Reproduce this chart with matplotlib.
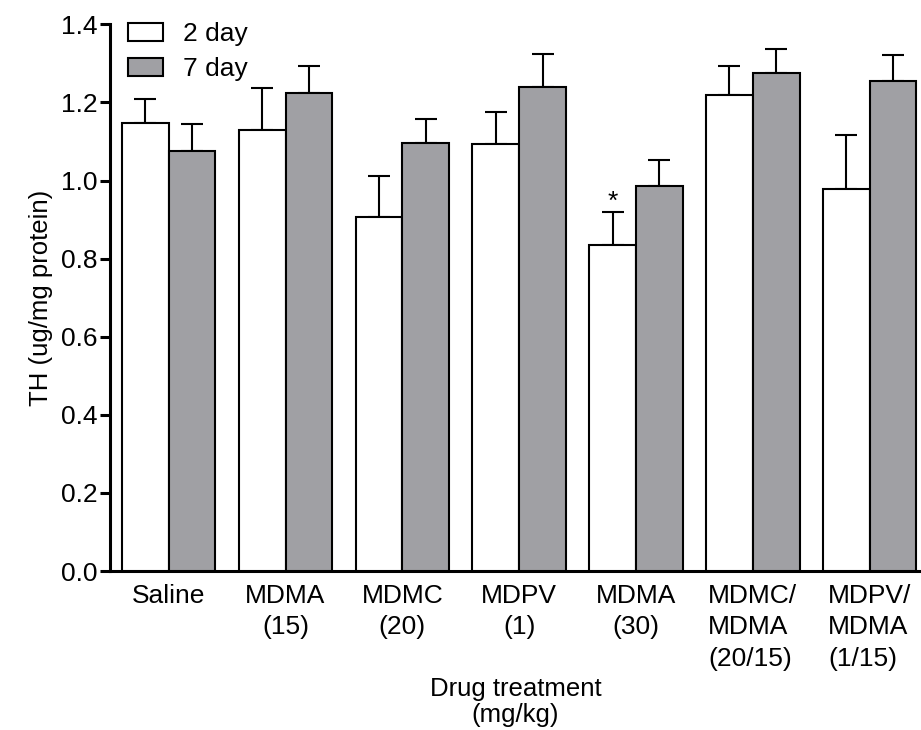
import numpy as np
import matplotlib
matplotlib.use("Agg")
import matplotlib.pyplot as plt

plt.rcParams["font.family"] = ["Liberation Sans", "DejaVu Sans"]

# TH levels per treatment group, mean and upper error (SEM)
groups = ["Saline", "MDMA\n(15)", "MDMC\n(20)", "MDPV\n(1)", "MDMA\n(30)",
          "MDMC/\nMDMA\n(20/15)", "MDPV/\nMDMA\n(1/15)"]
day2_mean = [1.148, 1.130, 0.907, 1.093, 0.834, 1.220, 0.977]
day2_err = [0.061, 0.106, 0.105, 0.083, 0.085, 0.074, 0.139]
day7_mean = [1.075, 1.224, 1.097, 1.239, 0.986, 1.275, 1.256]
day7_err = [0.069, 0.070, 0.061, 0.086, 0.067, 0.061, 0.066]
significant_day2 = [4]  # groups marked with *

fs = 19

fig = plt.figure(figsize=(9.21, 7.30), dpi=100)
ax = fig.add_axes([0.1194, 0.2178, 0.8806, 0.7489])

x = np.arange(len(groups))
w = 0.4
gray = "#a0a0a4"

ax.bar(x - w / 2, day2_mean, w, color="white", edgecolor="black",
       linewidth=1.5, label="2 day", zorder=3)
ax.bar(x + w / 2, day7_mean, w, color=gray, edgecolor="black",
       linewidth=1.5, label="7 day", zorder=3)

zeros = np.zeros(len(groups))
ax.errorbar(x - w / 2, day2_mean, yerr=[zeros, day2_err], fmt="none",
            ecolor="black", elinewidth=1.5, capsize=8, capthick=1.5, zorder=2)
ax.errorbar(x + w / 2, day7_mean, yerr=[zeros, day7_err], fmt="none",
            ecolor="black", elinewidth=1.5, capsize=8, capthick=1.5, zorder=2)

for i in significant_day2:
    ax.annotate("*", (x[i] - w / 2, day2_mean[i] + day2_err[i]),
                xytext=(0, 2.5), textcoords="offset points",
                ha="center", va="baseline", fontsize=fs)

ax.set_xlim(-0.5026, 6.44)
ax.set_ylim(0, 1.4)
ticks = np.arange(0, 1.41, 0.2)
ax.set_yticks(ticks)
ax.set_yticklabels([f"{v:.1f}" for v in ticks])
ax.set_xticks(x)
ax.set_xticklabels(groups, fontsize=fs, linespacing=1.42, va="top")
for lab, txt in zip(ax.get_xticklabels(), groups):
    if "/" in txt:
        lab.set_multialignment("left")

ax.tick_params(axis="y", length=7, width=2.2, labelsize=fs, pad=2)
ax.tick_params(axis="x", length=0, pad=9)

for side in ("top", "right"):
    ax.spines[side].set_visible(False)
for side in ("left", "bottom"):
    ax.spines[side].set_linewidth(2.2)

ax.set_ylabel("TH (ug/mg protein)", fontsize=18.5, labelpad=6)
ax.set_xlabel("Drug treatment\n(mg/kg)", fontsize=18.5, linespacing=1.1,
              labelpad=4)

ax.legend(loc="upper left", bbox_to_anchor=(0.022, 1.004), frameon=False,
          fontsize=fs, handlelength=1.35, handleheight=0.7, handletextpad=0.75,
          labelspacing=0.42, borderpad=0, borderaxespad=0)

fig.savefig("out.png", dpi=100)
